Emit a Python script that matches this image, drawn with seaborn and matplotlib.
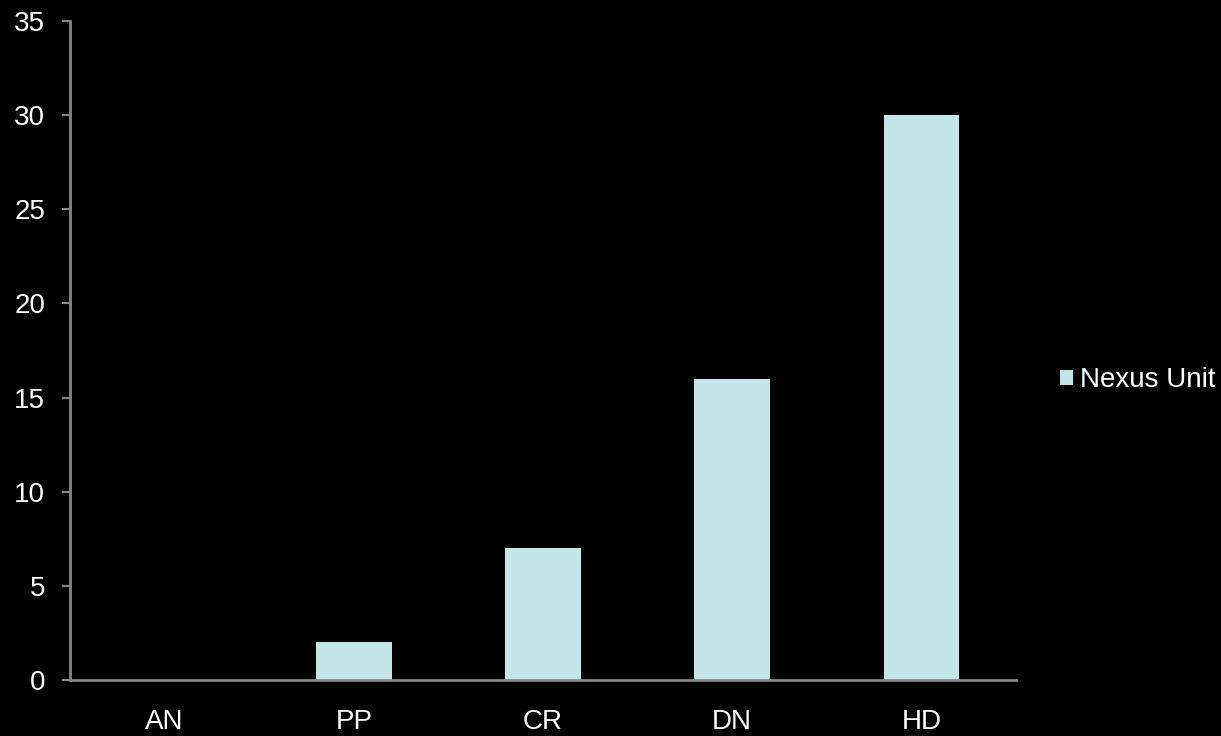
import matplotlib
matplotlib.use("Agg")
import matplotlib.pyplot as plt
import seaborn as sns
import pandas as pd
import numpy as np

categories = ["AN", "PP", "CR", "DN", "HD"]
values = [0, 2, 7, 16, 30]
series_name = "Nexus Unit"
y_ticks = [0, 5, 10, 15, 20, 25, 30, 35]

sns.set_style("dark")
plt.rcParams['font.family'] = ['Liberation Sans', 'DejaVu Sans']

df = pd.DataFrame({"cat": categories, "val": values, "series": [series_name] * len(categories)})

fig = plt.figure(figsize=(12.21, 7.36), dpi=100, facecolor="black")
ax = fig.add_axes([70/1221, 56/736, (1016-70)/1221, (680-21)/736])
ax.set_facecolor("black")

sns.barplot(data=df, x="cat", y="val", hue="series", palette=["#C5E6E8"],
            width=0.4, ax=ax, saturation=1, legend=True, linewidth=0, edgecolor="none")

ax.set_xlim(-0.5, len(categories) - 0.5)
ax.set_ylim(0, 35)
ax.set_yticks(y_ticks)
ax.set_xlabel("")
ax.set_ylabel("")
ax.grid(False)

axis_col = "#878787"
for s in ["top", "right"]:
    ax.spines[s].set_visible(False)
for s in ["left", "bottom"]:
    ax.spines[s].set_visible(True)
    ax.spines[s].set_color(axis_col)
    ax.spines[s].set_linewidth(2)

ax.set_xticks(np.arange(len(categories)))
ax.set_xticklabels(categories)
ax.set_xticks(np.arange(-0.5, len(categories)), minor=True)
ax.tick_params(axis="x", which="major", length=0, pad=21, labelsize=20, labelcolor="white")
ax.tick_params(axis="x", which="minor", length=6, width=1.5, color=axis_col, direction="out")
ax.tick_params(axis="y", which="major", length=6, width=1.5, color=axis_col, direction="out",
               pad=12, labelsize=20, labelcolor="white", left=True)

leg = ax.legend(loc="center left", bbox_to_anchor=(1.035, 0.455), frameon=False,
                fontsize=20, handlelength=0.47, handleheight=0.47, handletextpad=0.25,
                borderaxespad=0)
for t in leg.get_texts():
    t.set_color("white")
for h in leg.legend_handles:
    h.set_edgecolor("none")
    h.set_linewidth(0)

fig.savefig("out.png", dpi=100, facecolor="black")
